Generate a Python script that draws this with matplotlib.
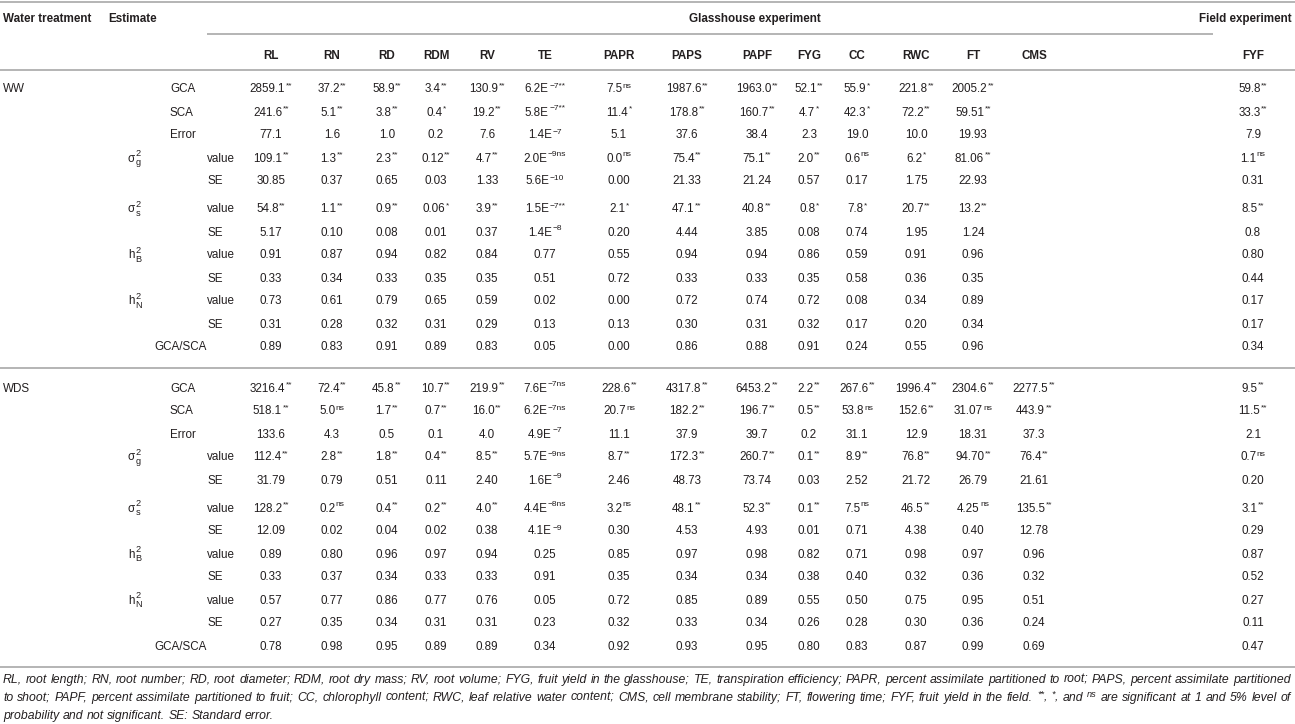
import matplotlib
matplotlib.use('Agg')
import matplotlib.pyplot as plt
from matplotlib import font_manager as fm

# ---------------- data ----------------
columns = ["RL", "RN", "RD", "RDM", "RV", "TE", "PAPR", "PAPS", "PAPF",
           "FYG", "CC", "RWC", "FT", "CMS", "FYF"]
treatments = ["WW", "WDS"]

# "^" separates the superscript part of a cell
ww_gca = ["2859.1^**", "37.2^**", "58.9^**", "3.4^**", "130.9^**", "6.2E^\u22127**", "7.5^ns", "1987.6^**", "1963.0^**", "52.1^**", "55.9^*", "221.8^**", "2005.2^**", "", "59.8^**"]
ww_sca = ["241.6^**", "5.1^**", "3.8^**", "0.4^*", "19.2^**", "5.8E^\u22127**", "11.4^*", "178.8^**", "160.7^**", "4.7^*", "42.3^*", "72.2^**", "59.51^**", "", "33.3^**"]
ww_err = ["77.1", "1.6", "1.0", "0.2", "7.6", "1.4E^\u22127", "5.1", "37.6", "38.4", "2.3", "19.0", "10.0", "19.93", "", "7.9"]
ww_sg_val = ["109.1^**", "1.3^**", "2.3^**", "0.12^**", "4.7^**", "2.0E^\u22129ns", "0.0^ns", "75.4^**", "75.1^**", "2.0^**", "0.6^ns", "6.2^*", "81.06^**", "", "1.1^ns"]
ww_sg_se = ["30.85", "0.37", "0.65", "0.03", "1.33", "5.6E^\u221210", "0.00", "21.33", "21.24", "0.57", "0.17", "1.75", "22.93", "", "0.31"]
ww_ss_val = ["54.8^**", "1.1^**", "0.9^**", "0.06^*", "3.9^**", "1.5E^\u22127**", "2.1^*", "47.1^**", "40.8^**", "0.8^*", "7.8^*", "20.7^**", "13.2^**", "", "8.5^**"]
ww_ss_se = ["5.17", "0.10", "0.08", "0.01", "0.37", "1.4E^\u22128", "0.20", "4.44", "3.85", "0.08", "0.74", "1.95", "1.24", "", "0.8"]
ww_hb_val = ["0.91", "0.87", "0.94", "0.82", "0.84", "0.77", "0.55", "0.94", "0.94", "0.86", "0.59", "0.91", "0.96", "", "0.80"]
ww_hb_se = ["0.33", "0.34", "0.33", "0.35", "0.35", "0.51", "0.72", "0.33", "0.33", "0.35", "0.58", "0.36", "0.35", "", "0.44"]
ww_hn_val = ["0.73", "0.61", "0.79", "0.65", "0.59", "0.02", "0.00", "0.72", "0.74", "0.72", "0.08", "0.34", "0.89", "", "0.17"]
ww_hn_se = ["0.31", "0.28", "0.32", "0.31", "0.29", "0.13", "0.13", "0.30", "0.31", "0.32", "0.17", "0.20", "0.34", "", "0.17"]
ww_ratio = ["0.89", "0.83", "0.91", "0.89", "0.83", "0.05", "0.00", "0.86", "0.88", "0.91", "0.24", "0.55", "0.96", "", "0.34"]

wds_gca = ["3216.4^**", "72.4^**", "45.8^**", "10.7^**", "219.9^**", "7.6E^\u22127ns", "228.6^**", "4317.8^**", "6453.2^**", "2.2^**", "267.6^**", "1996.4^**", "2304.6^**", "2277.5^**", "9.5^**"]
wds_sca = ["518.1^**", "5.0^ns", "1.7^**", "0.7^**", "16.0^**", "6.2E^\u22127ns", "20.7^ns", "182.2^**", "196.7^**", "0.5^**", "53.8^ns", "152.6^**", "31.07^ns", "443.9^**", "11.5^**"]
wds_err = ["133.6", "4.3", "0.5", "0.1", "4.0", "4.9E^\u22127", "11.1", "37.9", "39.7", "0.2", "31.1", "12.9", "18.31", "37.3", "2.1"]
wds_sg_val = ["112.4^**", "2.8^**", "1.8^**", "0.4^**", "8.5^**", "5.7E^\u22129ns", "8.7^**", "172.3^**", "260.7^**", "0.1^**", "8.9^**", "76.8^**", "94.70^**", "76.4^**", "0.7^ns"]
wds_sg_se = ["31.79", "0.79", "0.51", "0.11", "2.40", "1.6E^\u22129", "2.46", "48.73", "73.74", "0.03", "2.52", "21.72", "26.79", "21.61", "0.20"]
wds_ss_val = ["128.2^**", "0.2^ns", "0.4^**", "0.2^**", "4.0^**", "4.4E^\u22128ns", "3.2^ns", "48.1^**", "52.3^**", "0.1^**", "7.5^ns", "46.5^**", "4.25^ns", "135.5^**", "3.1^**"]
wds_ss_se = ["12.09", "0.02", "0.04", "0.02", "0.38", "4.1E^\u22129", "0.30", "4.53", "4.93", "0.01", "0.71", "4.38", "0.40", "12.78", "0.29"]
wds_hb_val = ["0.89", "0.80", "0.96", "0.97", "0.94", "0.25", "0.85", "0.97", "0.98", "0.82", "0.71", "0.98", "0.97", "0.96", "0.87"]
wds_hb_se = ["0.33", "0.37", "0.34", "0.33", "0.33", "0.91", "0.35", "0.34", "0.34", "0.38", "0.40", "0.32", "0.36", "0.32", "0.52"]
wds_hn_val = ["0.57", "0.77", "0.86", "0.77", "0.76", "0.05", "0.72", "0.85", "0.89", "0.55", "0.50", "0.75", "0.95", "0.51", "0.27"]
wds_hn_se = ["0.27", "0.35", "0.34", "0.31", "0.31", "0.23", "0.32", "0.33", "0.34", "0.26", "0.28", "0.30", "0.36", "0.24", "0.11"]
wds_ratio = ["0.78", "0.98", "0.95", "0.89", "0.89", "0.34", "0.92", "0.93", "0.95", "0.80", "0.83", "0.87", "0.99", "0.69", "0.47"]

# row labels: (kind, symbol, subscript, sub-label)
row_labels = [("est", "GCA", "", ""), ("est", "SCA", "", ""), ("est", "Error", "", ""),
              ("sym", "\u03c3", "g", "value"), ("se", "", "", "SE"),
              ("sym", "\u03c3", "s", "value"), ("se", "", "", "SE"),
              ("sym", "h", "B", "value"), ("se", "", "", "SE"),
              ("sym", "h", "N", "value"), ("se", "", "", "SE"),
              ("ratio", "GCA/SCA", "", "")]

ww_rows = [ww_gca, ww_sca, ww_err, ww_sg_val, ww_sg_se, ww_ss_val, ww_ss_se,
           ww_hb_val, ww_hb_se, ww_hn_val, ww_hn_se, ww_ratio]
wds_rows = [wds_gca, wds_sca, wds_err, wds_sg_val, wds_sg_se, wds_ss_val, wds_ss_se,
            wds_hb_val, wds_hb_se, wds_hn_val, wds_hn_se, wds_ratio]

footnote = [
    "RL, root length; RN, root number; RD, root diameter; RDM, root dry mass; RV, root volume; FYG, fruit yield in the glasshouse; TE, transpiration efficiency; PAPR, percent assimilate partitioned to root; PAPS, percent assimilate partitioned",
    "to shoot; PAPF, percent assimilate partitioned to fruit; CC, chlorophyll content; RWC, leaf relative water content; CMS, cell membrane stability; FT, flowering time; FYF, fruit yield in the field. ^{**}, ^{*}, and ^{ns} are significant at 1 and 5% level of",
    "probability and not significant. SE: Standard error.",
]

# ---------------- layout ----------------
names = {f.name for f in fm.fontManager.ttflist}
if "Liberation Sans Narrow" in names:
    FAM, BASE = "Liberation Sans Narrow", 10.0
else:
    FAM, BASE = "Liberation Sans", 8.4
FFAM = "Liberation Sans"
TXT = "#231f20"
LINE = "#b4b4b4"
SUPR = 0.72

W, H = 1295, 724
fig = plt.figure(figsize=(W / 100, H / 100), dpi=100)
fig.patch.set_facecolor("white")
ax = fig.add_axes([0, 0, 1, 1])
ax.set_xlim(0, W)
ax.set_ylim(H, 0)
ax.axis("off")
renderer = fig.canvas.get_renderer()

_cache = {}


def tw(text, size, weight="normal", style="normal", fam=None):
    fam = fam or FAM
    key = (text, size, weight, style, fam)
    if key not in _cache:
        t = ax.text(0, 0, text, fontsize=size, family=fam, fontweight=weight, fontstyle=style)
        _cache[key] = t.get_window_extent(renderer).width
        t.remove()
    return _cache[key]


def put(x, y, s, size=BASE, weight="normal", style="normal", ha="left", fam=None):
    ax.text(x, y, s, fontsize=size, family=fam or FAM, fontweight=weight, fontstyle=style,
            ha=ha, va="baseline", color=TXT)


def cell(cx, yb, s):
    if not s:
        return
    if "^" in s:
        main, sup = s.split("^", 1)
    else:
        main, sup = s, ""
    w1 = tw(main, BASE)
    w2 = tw(sup, BASE * SUPR) if sup else 0
    x0 = cx - (w1 + w2 + (0.5 if sup else 0)) / 2
    put(x0, yb, main)
    if sup:
        put(x0 + w1 + 0.5, yb - 5.0, sup, size=BASE * SUPR)


col_x = [271, 332, 387, 436, 487, 545, 619, 687, 757, 809, 857, 916, 973, 1034, 1253]

# header
put(3, 22, "Water treatment", weight="bold")
put(108, 22, "Estimate", weight="bold")
put(755, 22, "Glasshouse experiment", weight="bold", ha="center")
put(1292, 22, "Field experiment", weight="bold", ha="right")
for name, cx in zip(columns, col_x):
    put(cx, 59, name, weight="bold", ha="center")

# rules
for xa, xb, yy in [(0, W, 2), (207, 1213, 34), (0, W, 70), (0, W, 368), (0, W, 667)]:
    ax.plot([xa, xb], [yy, yy], color=LINE, lw=1.4, solid_capstyle="butt")

row_off = [0, 23, 46, 69, 92, 120, 143, 166, 189, 212, 235, 258]
blocks = [(88, "WW", ww_rows), (387, "WDS", wds_rows)]
for y0, tname, rows in blocks:
    put(3, y0 + 4.5, tname)
    for off, lab, vals in zip(row_off, row_labels, rows):
        yb = y0 + off + 4.5
        kind, sym, sub, sub_lab = lab
        if kind == "est":
            put(170, yb, sym)
        elif kind == "ratio":
            put(154, yb, sym)
        elif kind == "sym":
            put(128, yb, sym)
            ws = tw(sym, BASE)
            put(128 + ws + 0.8, yb - 5.5, "2", size=BASE * 0.78)
            put(128 + ws + 0.8, yb + 3.4, sub, size=BASE * 0.78)
            put(207, yb, sub_lab)
        else:
            put(207, yb, sub_lab)
        for cx, v in zip(col_x, vals):
            cell(cx, yb, v)


# footnote (justified lines)
def parse_word(word):
    parts = []
    i = 0
    buf = ""
    while i < len(word):
        if word.startswith("^{", i):
            if buf:
                parts.append((buf, False))
                buf = ""
            j = word.index("}", i)
            parts.append((word[i + 2:j], True))
            i = j + 1
        else:
            buf += word[i]
            i += 1
    if buf:
        parts.append((buf, False))
    return parts


FSUP = 0.75


def word_width(parts, fs):
    return sum(tw(p, fs * (FSUP if s else 1), style="italic", fam=FFAM) + (0.4 if s else 0)
               for p, s in parts)


x_left, x_right = 3, 1291
words0 = [parse_word(w) for w in footnote[0].split(" ")]


def natural(fs):
    sp = tw("a a", fs, style="italic", fam=FFAM) - tw("aa", fs, style="italic", fam=FFAM)
    return sum(word_width(p, fs) for p in words0) + sp * (len(words0) - 1)


FOOT = 7.0
while natural(FOOT + 0.1) <= (x_right - x_left) and FOOT < 11:
    FOOT += 0.1

foot_y = [683, 701, 719]
space_w = tw("a a", FOOT, style="italic", fam=FFAM) - tw("aa", FOOT, style="italic", fam=FFAM)
for k, (line, yb) in enumerate(zip(footnote, foot_y)):
    words = [parse_word(w) for w in line.split(" ")]
    widths = [word_width(p, FOOT) for p in words]
    if k < len(footnote) - 1:
        gap = (x_right - x_left - sum(widths)) / (len(words) - 1)
    else:
        gap = space_w
    x = x_left
    for parts, wdt in zip(words, widths):
        xx = x
        for p, s in parts:
            if s:
                put(xx + 0.4, yb - 4.0, p, size=FOOT * FSUP, style="italic", fam=FFAM)
                xx += tw(p, FOOT * FSUP, style="italic", fam=FFAM) + 0.4
            else:
                put(xx, yb, p, size=FOOT, style="italic", fam=FFAM)
                xx += tw(p, FOOT, style="italic", fam=FFAM)
        x += wdt + gap

fig.savefig("out.png", dpi=100, facecolor="white")
